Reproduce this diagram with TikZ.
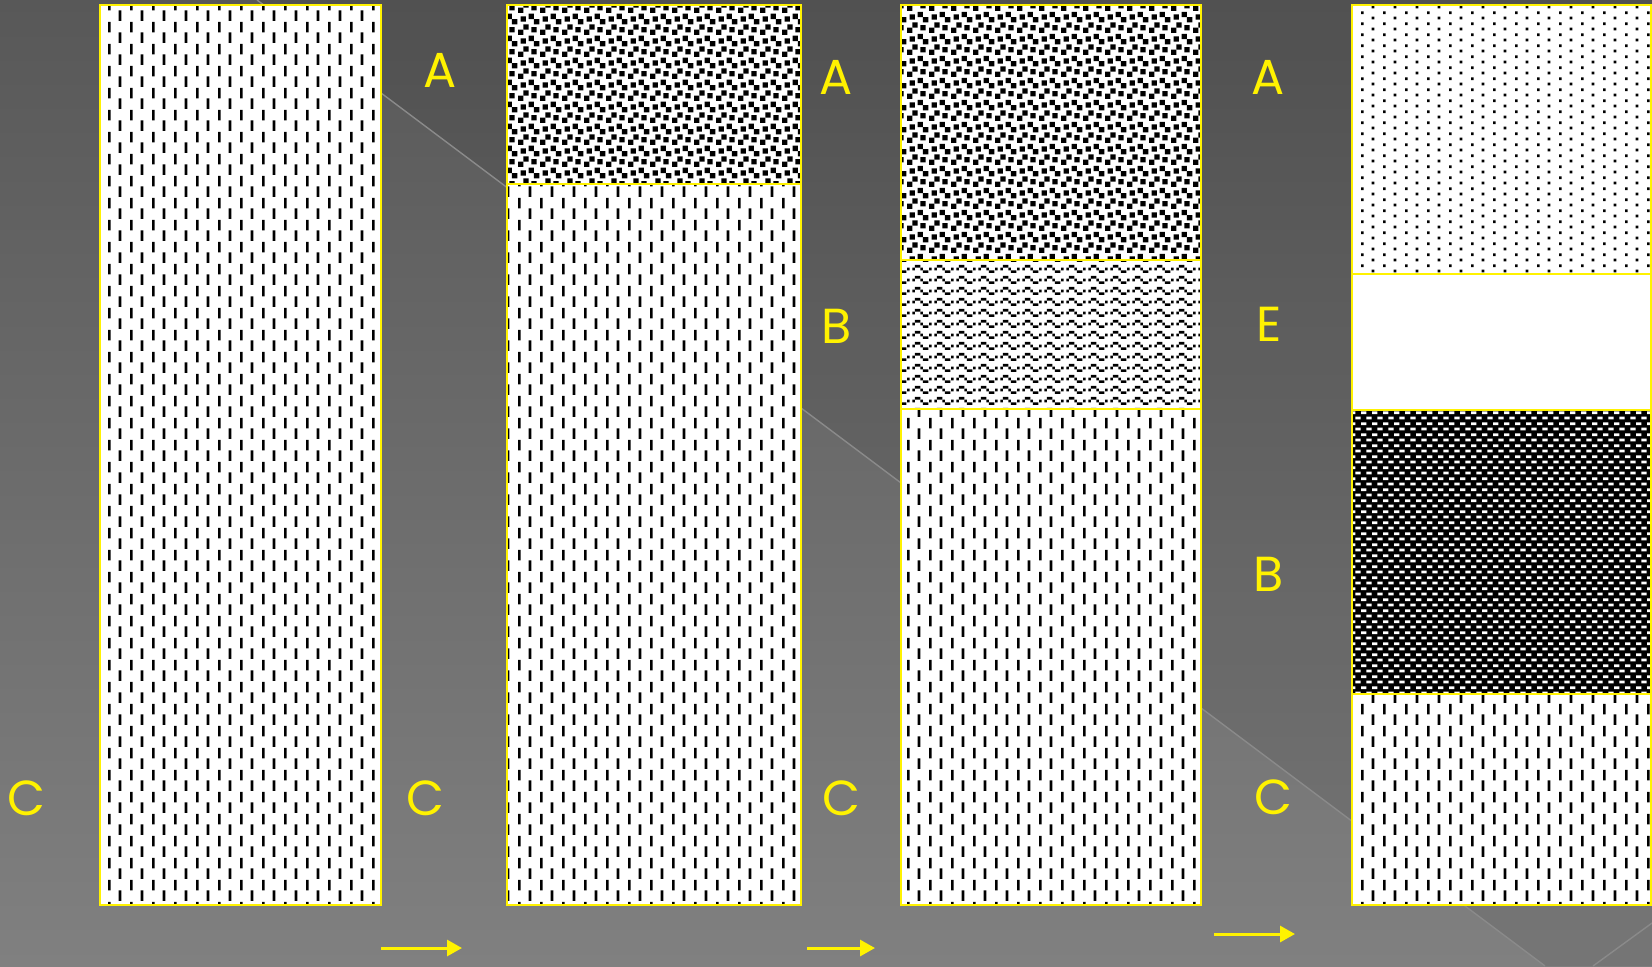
\documentclass[tikz,border=0pt]{standalone}
\usepackage{fontspec}
\newfontfamily\lblfont{Poppins}
\usetikzlibrary{arrows.meta,patterns.meta}

\definecolor{bgtop}{HTML}{585858}
\definecolor{bgbot}{HTML}{808080}
\definecolor{seam}{HTML}{8A8A8A}

% fill patterns, one cell = 0.027cm
\tikzdeclarepattern{
  name=vdash, type=uncolored,
  bounding box={(0,0) and (0.216,0.216)},
  tile size={(0.216,0.216)},
  code={
    \fill (0,0.108) rectangle (0.027,0.216);
    \fill (0.108,0) rectangle (0.135,0.108);
  }
}
\tikzdeclarepattern{
  name=confetti, type=uncolored,
  bounding box={(0,0) and (0.216,0.216)},
  tile size={(0.216,0.216)},
  code={
    \fill (0.162,0.108) rectangle +(0.054,0.054);
    \fill (0.027,0.135) rectangle +(0.054,0.054);
    \fill (0.054,0.054) rectangle +(0.054,0.054);
    \fill (0.135,0.027) rectangle +(0.054,0.054);
    \fill (0,0) rectangle +(0.054,0.054);
    \fill (0.108,0.162) rectangle +(0.054,0.054);
  }
}
\tikzdeclarepattern{
  name=wavy, type=uncolored,
  bounding box={(0,0) and (0.216,0.108)},
  tile size={(0.216,0.108)},
  code={
    \fill (0.081,0.054) rectangle (0.135,0.081);
    \fill (0,0.027) rectangle (0.027,0.054);
    \fill (0.054,0.027) rectangle (0.081,0.054);
    \fill (0.135,0.027) rectangle (0.162,0.054);
    \fill (0.162,0) rectangle (0.216,0.027);
  }
}
\tikzdeclarepattern{
  name=sparsedots, type=uncolored,
  bounding box={(0,0) and (0.216,0.108)},
  tile size={(0.216,0.108)},
  code={
    \fill (0,0.081) rectangle (0.027,0.108);
    \fill (0.108,0.027) rectangle (0.135,0.054);
  }
}
\tikzdeclarepattern{
  name=bricks, type=uncolored,
  bounding box={(0,0) and (0.108,0.108)},
  tile size={(0.108,0.108)},
  code={
    \fill (0,0.081) rectangle (0.054,0.108);
    \fill (0.054,0.027) rectangle (0.108,0.054);
  }
}

\begin{document}
\begin{tikzpicture}[
  band/.style={draw=yellow, line width=0.7pt},
  vband/.style={band, preaction={fill=white}, pattern=vdash, pattern color=black},
  cband/.style={band, preaction={fill=white}, pattern=confetti, pattern color=black},
  wband/.style={band, preaction={fill=white}, pattern=wavy, pattern color=black},
  dband/.style={band, preaction={fill=white}, pattern=sparsedots, pattern color=black},
  kband/.style={band, preaction={fill=black}, pattern=bricks, pattern color=white},
  lbl/.style={text=yellow, inner sep=0pt, font=\lblfont\fontsize{14}{14}\selectfont},
  arr/.style={-{Triangle[length=0.15cm, width=0.16cm]}, draw=yellow, line width=0.85pt}
]

\useasboundingbox (0,0) rectangle (16.52,9.66);

% background
\shade[top color=bgtop, bottom color=bgbot] (0,0) rectangle (16.52,9.66);
\fill[black, opacity=0.08] (2.57,9.66) -- (16.52,9.66) -- (16.52,0) -- (15.45,0) -- cycle;
\draw[seam, line width=0.4pt] (2.57,9.66) -- (15.45,0);
\draw[seam, line width=0.4pt] (15.93,0) -- (16.52,0.43);

% column 1
\draw[vband] (1.00,0.61) rectangle (3.81,9.61);

% column 2
\draw[cband] (5.07,7.82) rectangle (8.01,9.61);
\draw[vband] (5.07,0.61) rectangle (8.01,7.82);

% column 3
\draw[cband] (9.01,7.06) rectangle (12.01,9.61);
\draw[wband] (9.01,5.57) rectangle (12.01,7.06);
\draw[vband] (9.01,0.61) rectangle (12.01,5.57);

% column 4
\draw[dband] (13.52,6.92) rectangle (16.51,9.61);
\draw[band, fill=white] (13.52,5.56) rectangle (16.51,6.92);
\draw[kband] (13.52,2.72) rectangle (16.51,5.56);
\draw[vband] (13.52,0.61) rectangle (16.51,2.72);

% labels
\node[lbl] (a1) at (4.40,8.96) {A};
\node[lbl] (a2) at (8.36,8.89) {A};
\node[lbl] (a3) at (12.68,8.89) {A};
\node[lbl] (b2) at (8.37,6.40) {B};
\node[lbl] (e3) at (12.69,6.42) {E};
\node[lbl] (b3) at (12.69,3.92) {B};
\node[lbl] (c0) at (0.26,1.68) {C};
\node[lbl] (c1) at (4.25,1.68) {C};
\node[lbl] (c2) at (8.41,1.68) {C};
\node[lbl] (c3) at (12.73,1.69) {C};

% arrows
\coordinate (s1) at (3.81,0.18);
\coordinate (t1) at (4.62,0.18);
\coordinate (s2) at (8.07,0.18);
\coordinate (t2) at (8.75,0.18);
\coordinate (s3) at (12.14,0.32);
\coordinate (t3) at (12.95,0.32);
\draw[arr] (s1) -- (t1);
\draw[arr] (s2) -- (t2);
\draw[arr] (s3) -- (t3);

\end{tikzpicture}
\end{document}
